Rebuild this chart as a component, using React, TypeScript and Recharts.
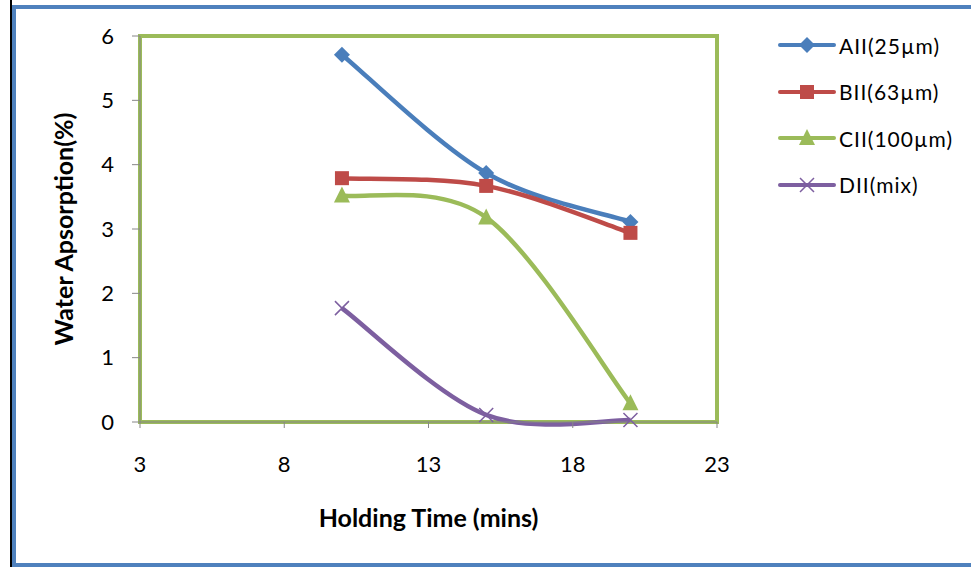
import { Legend, Line, LineChart, ReferenceArea, XAxis, YAxis } from "recharts"

const BLUE = "#4A7EBB"
const RED = "#BE4B48"
const GREEN = "#9BBB59"
const PURPLE = "#7D5FA0"
const AXIS_GRAY = "#868686"
const FONT = "Lato, 'Open Sans', sans-serif"

const TIMES = [10, 15, 20]
const A_II = [5.71, 3.87, 3.11]
const B_II = [3.79, 3.67, 2.94]
const C_II = [3.52, 3.18, 0.29]
const D_II = [1.77, 0.11, 0.03]

const X_TICKS = [3, 8, 13, 18, 23]
const Y_TICKS = [0, 1, 2, 3, 4, 5, 6]

const SERIES = [
  { key: "a", name: "AII(25µm)", color: BLUE, shape: "diamond", values: A_II },
  { key: "b", name: "BII(63µm)", color: RED, shape: "square", values: B_II },
  { key: "c", name: "CII(100µm)", color: GREEN, shape: "triangle", values: C_II },
  { key: "d", name: "DII(mix)", color: PURPLE, shape: "cross", values: D_II },
]

const data = TIMES.map((t, i) => ({
  t,
  a: A_II[i],
  b: B_II[i],
  c: C_II[i],
  d: D_II[i],
}))

// excel-ish smoothed line (catmull-rom as cubic beziers)
function smoothCurve(context: any) {
  let pts: number[][] = []
  return {
    areaStart() {},
    areaEnd() {},
    lineStart() {
      pts = []
    },
    point(x: number, y: number) {
      pts.push([+x, +y])
    },
    lineEnd() {
      if (!pts.length) return
      context.moveTo(pts[0][0], pts[0][1])
      for (let i = 0; i < pts.length - 1; i++) {
        const p0 = pts[i - 1] ?? pts[i]
        const p1 = pts[i]
        const p2 = pts[i + 1]
        const p3 = pts[i + 2] ?? p2
        context.bezierCurveTo(
          p1[0] + (p2[0] - p0[0]) / 6,
          p1[1] + (p2[1] - p0[1]) / 6,
          p2[0] - (p3[0] - p1[0]) / 6,
          p2[1] - (p3[1] - p1[1]) / 6,
          p2[0],
          p2[1]
        )
      }
    },
  }
}

function Marker({ shape, cx, cy, color }: { shape: string; cx: number; cy: number; color: string }) {
  if (shape === "diamond") {
    const r = 8
    return <path d={`M${cx},${cy - r}L${cx + r},${cy}L${cx},${cy + r}L${cx - r},${cy}Z`} fill={color} />
  }
  if (shape === "square") {
    const r = 7
    return <rect x={cx - r} y={cy - r} width={r * 2} height={r * 2} fill={color} />
  }
  if (shape === "triangle") {
    const r = 8
    return <path d={`M${cx},${cy - r - 1}L${cx + r},${cy + r - 1}L${cx - r},${cy + r - 1}Z`} fill={color} />
  }
  const r = 7
  return (
    <path
      d={`M${cx - r},${cy - r}L${cx + r},${cy + r}M${cx - r},${cy + r}L${cx + r},${cy - r}`}
      stroke={color}
      strokeWidth={1.5}
      fill="none"
    />
  )
}

function LegendBox() {
  return (
    <div style={{ fontFamily: FONT, fontSize: 21, letterSpacing: 1, color: "#000" }}>
      {SERIES.map((s) => (
        <div key={s.key} style={{ display: "flex", alignItems: "center", height: 46.5 }}>
          <svg width={58} height={24} style={{ display: "block" }}>
            <line x1={2} y1={12} x2={56} y2={12} stroke={s.color} strokeWidth={4} strokeLinecap="round" />
            <Marker shape={s.shape} cx={29} cy={12} color={s.color} />
          </svg>
          <span style={{ marginLeft: 3 }}>{s.name}</span>
        </div>
      ))}
    </div>
  )
}

export default function App() {
  return (
    <div
      style={{
        position: "fixed",
        left: 0,
        top: 0,
        width: 971,
        height: 567,
        background: "#fff",
        overflow: "hidden",
      }}
    >
      <div style={{ position: "absolute", left: 10, top: 0, width: 2, height: 567, background: "#000" }} />
      <div
        style={{
          position: "absolute",
          left: 12,
          top: 5,
          width: 990,
          height: 562,
          border: "4px solid #4F81BD",
          boxSizing: "border-box",
        }}
      />
      <div style={{ position: "absolute", left: 0, top: 0 }}>
        <LineChart
          width={971}
          height={567}
          data={data}
          margin={{ top: 36, right: 254, bottom: 85, left: 0 }}
        >
          <ReferenceArea
            x1={3}
            x2={23}
            y1={0}
            y2={6}
            fill="none"
            stroke={GREEN}
            strokeWidth={4}
            ifOverflow="visible"
          />
          <XAxis
            dataKey="t"
            type="number"
            domain={[3, 23]}
            ticks={X_TICKS}
            interval={0}
            height={60}
            stroke={AXIS_GRAY}
            tickSize={6}
            tickMargin={28}
            tick={{ fill: "#000", fontSize: 22, fontFamily: FONT }}
            label={{
              value: "Holding Time (mins)",
              position: "insideBottom",
              offset: -45,
              fill: "#000",
              fontSize: 25,
              fontWeight: 700,
              fontFamily: FONT,
            }}
          />
          <YAxis
            type="number"
            domain={[0, 6]}
            ticks={Y_TICKS}
            interval={0}
            width={140}
            stroke={AXIS_GRAY}
            tickSize={8}
            tickMargin={18}
            tick={{ fill: "#000", fontSize: 22, fontFamily: FONT }}
            label={{
              value: "Water Apsorption(%)",
              angle: -90,
              position: "insideLeft",
              offset: 64,
              fill: "#000",
              fontSize: 25,
              fontWeight: 700,
              fontFamily: FONT,
              style: { textAnchor: "middle" },
            }}
          />
          {SERIES.map((s) => (
            <Line
              key={s.key}
              dataKey={s.key}
              name={s.name}
              type={smoothCurve as any}
              stroke={s.color}
              strokeWidth={4.5}
              dot={(p: any) => <Marker key={`${s.key}-${p.index}`} shape={s.shape} cx={p.cx} cy={p.cy} color={s.color} />}
              activeDot={false}
              isAnimationActive={false}
            />
          ))}
          <Legend
            layout="vertical"
            align="center"
            verticalAlign="middle"
            content={() => <LegendBox />}
            wrapperStyle={{ left: 778, top: 22, width: 190 }}
          />
        </LineChart>
      </div>
    </div>
  )
}
